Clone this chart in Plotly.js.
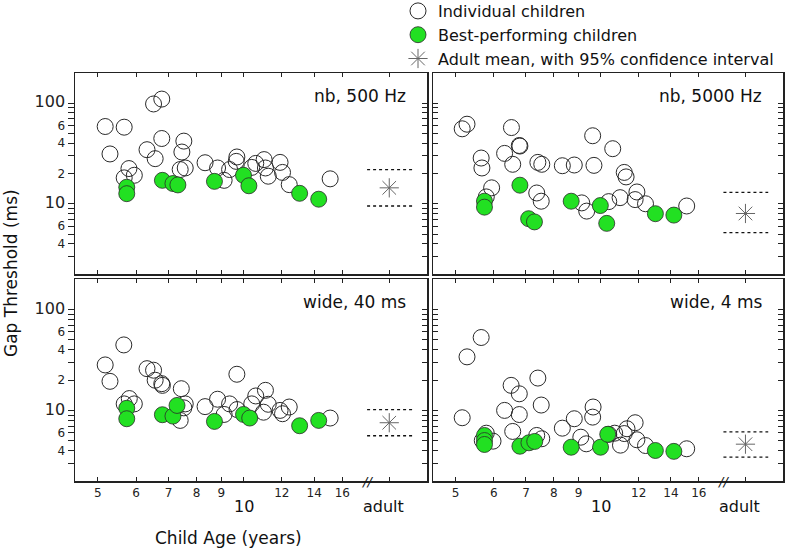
<!DOCTYPE html>
<html>
<head>
<meta charset="utf-8">
<script src="https://cdn.plot.ly/plotly-3.0.1.min.js"></script>
<style>html,body{margin:0;padding:0;background:#fff;}#chart{width:787px;height:549px;}</style>
</head>
<body>
<div id="chart"></div>
<script>
// ---------- data ----------
const panelNames = ['nb, 500 Hz', 'nb, 5000 Hz', 'wide, 40 ms', 'wide, 4 ms'];

const nb500Age  = [5.18,5.30,5.67,5.67,5.80,5.95,6.32,6.52,6.78,6.57,6.78,7.40,7.58,7.46,7.53,8.33,8.84,9.12,9.36,9.66,9.69,10.4,10.6,11.03,11.1,11.25,11.9,12.04,12.43,15.1];
const nb500Thr  = [58.7,31.3,57.8,18.1,22.4,19.2,34.5,98.4,110,28.1,44.6,21.9,22.7,32.7,42.0,25.6,22.7,17.1,21.9,26.4,29.2,23.0,25.2,27.5,22.7,18.8,25.8,20.5,15.5,17.7];
const nb500BestAge = [5.74,5.74,6.80,7.15,7.32,8.71,10.0,10.26,13.06,14.3];
const nb500BestThr = [14.6,12.6,17.1,15.9,15.4,16.7,19.2,15.1,12.7,11.1];

const nb5000Age = [5.16,5.28,5.65,5.67,5.79,5.94,6.32,6.53,6.57,6.78,6.80,7.41,7.55,7.37,7.53,8.33,8.82,9.14,9.36,9.63,9.69,10.4,10.6,10.98,11.2,11.3,11.9,11.8,12.4,15.1];
const nb5000Thr = [55.7,61.9,28.5,22.7,11.7,14.4,31.7,57.3,24.7,38.0,37.5,25.8,24.7,12.8,10.6,23.9,24.3,10.2,8.45,47.5,24.1,10.5,35.3,11.5,20.5,18.5,13.1,11.0,10.0,9.5];
const nb5000BestAge = [5.74,5.74,6.80,7.09,7.29,8.69,9.99,10.3,13.0,14.2];
const nb5000BestThr = [10.6,9.25,15.3,7.1,6.6,10.6,9.6,6.38,7.96,7.71];

const wide40Age = [5.18,5.30,5.66,5.67,5.81,5.95,6.32,6.52,6.57,6.78,6.80,7.44,7.58,7.53,7.40,8.33,8.84,9.12,9.36,9.69,9.70,10.4,10.6,11.1,11.25,11.0,11.9,12.04,12.43,15.1];
const wide40Thr = [28.2,19.4,44.5,11.6,13.1,11.6,25.9,25.0,19.9,18.4,17.7,16.4,11.6,10.6,7.96,10.9,12.9,9.12,11.6,22.8,10.2,11.6,13.9,15.8,11.5,9.6,10.0,9.27,10.8,8.4];
const wide40BestAge = [5.74,5.74,6.80,7.15,7.29,8.71,10.0,10.3,13.06,14.3];
const wide40BestThr = [10.5,8.27,9.06,8.78,11.2,7.78,9.12,8.4,7.05,7.96];

const wide4Age = [5.16,5.28,5.65,5.79,5.98,5.68,6.32,6.52,6.78,6.78,6.57,7.41,7.53,7.37,7.55,8.33,8.82,9.10,9.34,9.65,9.63,10.4,10.7,11.0,11.2,11.35,11.8,11.9,12.4,15.1];
const wide4Thr = [8.46,33.9,52.7,5.95,4.96,5.03,10.0,17.7,14.6,9.1,6.19,20.9,11.3,5.65,5.24,6.67,8.27,5.43,4.67,10.8,8.58,5.8,5.95,4.53,5.9,6.58,7.55,5.12,4.49,4.17];
const wide4BestAge = [5.74,5.74,5.74,6.80,7.10,7.30,8.69,10.0,10.35,13.0,14.2];
const wide4BestThr = [5.65,5.03,4.60,4.42,4.78,4.93,4.32,4.32,5.8,4.01,3.93];

const adultX = 20;              // "adult" position on the age axis
const adultCiX = [18, 22.3];    // extent of the CI dotted lines
const adultMean = [14.4, 8.0, 7.55, 4.63];
const adultHi   = [21.9, 13.0, 10.2, 6.14];
const adultLo   = [9.5, 5.16, 5.61, 3.44];
const breakAge = 18;

const xTickVals = [5,6,7,8,9,10,12,14,16,20];
const xTickText = ['5','6','7','8','9','','12','14','16',''];
const yTickVals = [3,4,5,6,7,8,9,10,20,30,40,50,60,70,80,90,100];
const yTickText = ['','4','','6','','','','<span style="font-size:16px">10</span>','2','','4','','6','','','','<span style="font-size:16px">100</span>'];

const legendNames = ['Individual children', 'Best-performing children', 'Adult mean, with 95% confidence interval'];

// ---------- build ----------
const openAges = [nb500Age, nb5000Age, wide40Age, wide4Age];
const openThr  = [nb500Thr, nb5000Thr, wide40Thr, wide4Thr];
const bestAges = [nb500BestAge, nb5000BestAge, wide40BestAge, wide4BestAge];
const bestThr  = [nb500BestThr, nb5000BestThr, wide40BestThr, wide4BestThr];

const xa = ['x','x2','x3','x4'];
const ya = ['y','y2','y3','y4'];
const ciAxis = ['y5','y2','y6','y4'];
const green = '#22e022';
const ink = '#222';

const traces = [];
for (let p = 0; p < 4; p++) {
  traces.push({
    type:'scatter', mode:'markers', x: openAges[p], y: openThr[p], xaxis: xa[p], yaxis: ya[p],
    name: legendNames[0], showlegend: p === 0, legendrank: 1, hoverinfo:'x+y',
    marker:{symbol:'circle-open', size:16, color:'#2a2a2a', line:{width:1, color:'#2a2a2a'}}
  });
}
for (let p = 0; p < 4; p++) {
  traces.push({
    type:'scatter', mode:'markers', x: bestAges[p], y: bestThr[p], xaxis: xa[p], yaxis: ya[p],
    name: legendNames[1], showlegend: p === 0, legendrank: 2,
    marker:{symbol:'circle', size:16, color: green, line:{width:0.8, color:'#2a2a2a'}}
  });
}
for (let p = 0; p < 4; p++) {
  traces.push({
    type:'scatter', mode:'markers', x: [adultX], y: [adultMean[p]], xaxis: xa[p], yaxis: ya[p],
    name: legendNames[2], showlegend: p === 0, legendrank: 3,
    marker:{symbol:'asterisk-open', size:16, color:'#666', line:{width:1, color:'#666'}}
  });
  traces.push({
    type:'scatter', mode:'lines', xaxis: xa[p], yaxis: ciAxis[p], showlegend:false, hoverinfo:'skip',
    x: [adultCiX[0], adultCiX[1], null, adultCiX[0], adultCiX[1]],
    y: [adultHi[p], adultHi[p], null, adultLo[p], adultLo[p]],
    line:{color:'#111', width:1.3, dash:'dot'}
  });
}

const xRange = [0.652, 1.379];
const yRange = [Math.log10(2), Math.log10(200)];
const xDom = [[75/787, 427/787], [433/787, 783/787]];
const yDom = [[(549-274)/549, (549-73)/549], [(549-481)/549, (549-279)/549]];

function xAxis(col, row, anchor) {
  return {
    domain: xDom[col], anchor: anchor, type:'log', range: xRange,
    tickmode:'array', tickvals: xTickVals, ticktext: xTickText,
    ticks:'inside', ticklen:4, tickwidth:1, tickcolor: ink,
    showticklabels: row === 1, tickfont:{size:12, color:'#222'},
    showline:true, linecolor: ink, linewidth:1.5, mirror:'ticks',
    showgrid:false, zeroline:false
  };
}
function yAxis(col, row, anchor) {
  return {
    domain: yDom[row], anchor: anchor, type:'log', range: yRange,
    tickmode:'array', tickvals: yTickVals, ticktext: yTickText,
    ticks: col === 0 ? 'outside' : 'inside', ticklen: col === 0 ? 6 : 5, tickwidth:1, tickcolor: ink,
    showticklabels: col === 0, tickfont:{size:12, color:'#222'},
    showline:true, linecolor: ink, linewidth:1.5, mirror: col === 0 ? false : 'ticks',
    showgrid:false, zeroline:false
  };
}
function yOverlay(over, anchor) {
  return {
    overlaying: over, anchor: anchor, side:'right', type:'log', range: yRange,
    tickmode:'array', tickvals: yTickVals, ticks:'inside', ticklen:5, tickwidth:1, tickcolor: ink,
    showticklabels:false, showline:true, linecolor: ink, linewidth:1.5,
    showgrid:false, zeroline:false
  };
}

const annotations = [];
const domRefX = ['x domain','x2 domain','x3 domain','x4 domain'];
const domRefY = ['y domain','y2 domain','y3 domain','y4 domain'];
for (let p = 0; p < 4; p++) {
  annotations.push({
    text: panelNames[p], xref: domRefX[p], yref: domRefY[p], x:1, y:1,
    xanchor:'right', yanchor:'middle', xshift:-19, yshift:-23, showarrow:false,
    font:{size:17, color:'#111'}
  });
}
[['x3', 'y3 domain'], ['x4', 'y4 domain']].forEach(function(r) {
  annotations.push({text:'10', xref:r[0], yref:'paper', x:1, y:(549-506)/549, yanchor:'middle',
    showarrow:false, font:{size:16, color:'#111'}});
  annotations.push({text:'adult', xref:r[0], yref:'paper', x:Math.log10(adultX), xshift:-6, y:(549-506)/549, yanchor:'middle',
    showarrow:false, font:{size:16, color:'#111'}});
  annotations.push({text:'<i>//</i>', xref:r[0], yref:r[1], x:Math.log10(breakAge), y:0, yanchor:'middle',
    showarrow:false, font:{size:13, color:'#111'}});
});
annotations.push({text:'Child Age (years)', xref:'paper', yref:'paper', x:228/787, y:(549-538)/549,
  xanchor:'center', yanchor:'middle', showarrow:false, font:{size:17, color:'#111'}});
annotations.push({text:'Gap Threshold (ms)', xref:'paper', yref:'paper', x:11/787, y:(549-273)/549,
  xanchor:'center', yanchor:'middle', textangle:-90, showarrow:false, font:{size:17, color:'#111'}});

const layout = {
  width:787, height:549, margin:{l:0, r:0, t:0, b:0, autoexpand:false},
  paper_bgcolor:'#fff', plot_bgcolor:'rgba(0,0,0,0)',
  font:{family:'"DejaVu Sans", sans-serif', color:'#111'},
  showlegend:true,
  legend:{x:398/787, y:1 + 6/549, xanchor:'left', yanchor:'top',
    font:{size:16, color:'#111'},
    bgcolor:'rgba(0,0,0,0)', borderwidth:0, tracegroupgap:0, itemclick:false},
  xaxis: xAxis(0,0,'y'), yaxis: yAxis(0,0,'x'),
  xaxis2: xAxis(1,0,'y2'), yaxis2: yAxis(1,0,'x2'),
  xaxis3: xAxis(0,1,'y3'), yaxis3: yAxis(0,1,'x3'),
  xaxis4: xAxis(1,1,'y4'), yaxis4: yAxis(1,1,'x4'),
  yaxis5: yOverlay('y','x'), yaxis6: yOverlay('y3','x3'),
  annotations: annotations,
  hovermode:'closest'
};

Plotly.newPlot('chart', traces, layout, {displayModeBar:false, staticPlot:true});
</script>
</body>
</html>
